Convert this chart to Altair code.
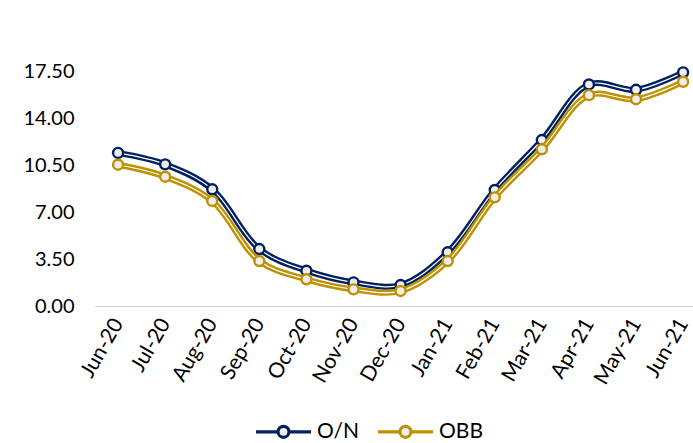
import altair as alt
import pandas as pd

# Monthly rates (%) for the two money-market series
months = ["Jun-20", "Jul-20", "Aug-20", "Sep-20", "Oct-20", "Nov-20", "Dec-20",
          "Jan-21", "Feb-21", "Mar-21", "Apr-21", "May-21", "Jun-21"]
on_rate = [11.40, 10.55, 8.69, 4.24, 2.63, 1.76, 1.56, 4.00, 8.64, 12.36, 16.50, 16.10, 17.40]
obb_rate = [10.52, 9.63, 7.82, 3.35, 1.99, 1.24, 1.12, 3.35, 8.09, 11.67, 15.70, 15.40, 16.70]
series = ["O/N", "OBB"]
colors = ["#002060", "#BF9000"]
y_ticks = [0, 3.5, 7, 10.5, 14, 17.5]

df = pd.DataFrame({
    "month": months * 2,
    "rate": on_rate + obb_rate,
    "series": [series[0]] * len(months) + [series[1]] * len(months),
})

FONT = "Lato"

# legend glyph: short line, open circle, short line
legend_path = "M-5,0 L-1,0 M1,0 L5,0 M-1,0 A1,1 0 1,1 1,0 A1,1 0 1,1 -1,0 Z"

legend = alt.Legend(
    title=None, orient="none", direction="horizontal",
    legendX=156, legendY=350,
    symbolType=legend_path, symbolSize=121, symbolStrokeWidth=3.2,
    symbolFillColor="#EEEEEE", symbolOffset=22, labelOffset=23,
    columnPadding=11, labelFont=FONT, labelFontSize=21, labelColor="#000000",
)

x_enc = alt.X(
    "month:N", sort=months,
    scale=alt.Scale(type="point", padding=0.35, align=0.7),
    axis=alt.Axis(title=None, labelAngle=-60, labelAlign="right", labelBaseline="middle",
                  labelPadding=14, ticks=False, domainColor="#D9D9D9", domainWidth=1.5,
                  labelFont=FONT, labelFontSize=21, labelColor="#000000"),
)
y_enc = alt.Y(
    "rate:Q",
    scale=alt.Scale(domain=[0, 17.5], nice=False, zero=True),
    axis=alt.Axis(title=None, values=y_ticks, format=".2f", domain=False, ticks=False,
                  grid=False, labelPadding=21, labelFont=FONT, labelFontSize=20,
                  labelColor="#000000"),
)
stroke_enc = alt.Stroke("series:N", scale=alt.Scale(domain=series, range=colors), legend=legend)

base = alt.Chart(df).encode(x=x_enc, y=y_enc)

layers = []
for name in series:
    sub = base.transform_filter(alt.datum.series == name)
    layers.append(sub.mark_line(interpolate="catmull-rom", strokeWidth=6, clip=False)
                  .encode(stroke=stroke_enc))
    layers.append(sub.mark_line(interpolate="catmull-rom", strokeWidth=1.2, stroke="#FFFFFF",
                                clip=False))
    layers.append(sub.mark_point(shape="circle", size=100, filled=True, fill="#EEEEEE",
                                 strokeWidth=2.4, opacity=1, clip=False)
                  .encode(stroke=stroke_enc))

chart = alt.layer(*layers).properties(
    width=598, height=235,
    padding={"left": 95, "top": 71, "right": 0, "bottom": 137},
    autosize=alt.AutoSizeParams(type="none"),
    background="#FFFFFF",
).configure_view(stroke=None)

chart.save("out.html", embed_options={"renderer": "svg", "actions": False})
